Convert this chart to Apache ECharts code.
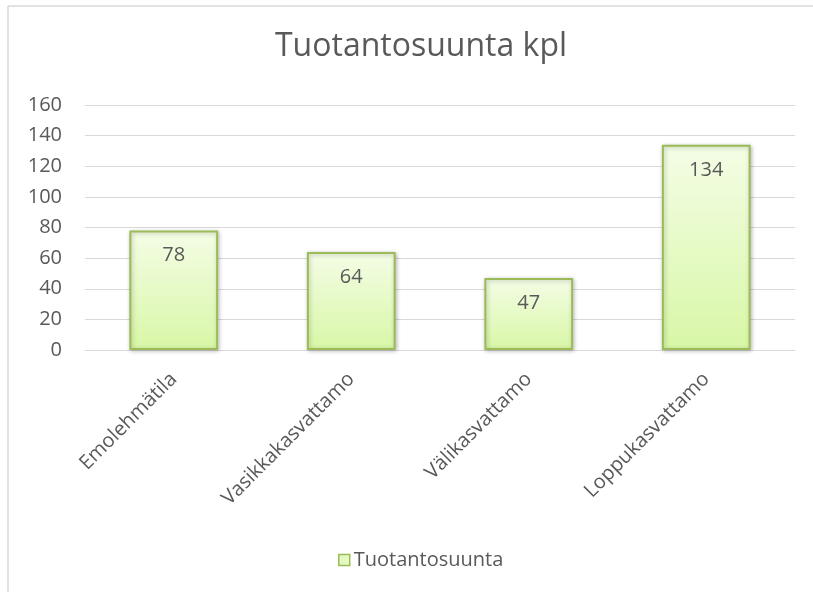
<!DOCTYPE html>
<html><head><meta charset="utf-8">
<script src="https://cdn.jsdelivr.net/npm/echarts@6/dist/echarts.min.js"></script>
<style>html,body{margin:0;padding:0;background:#fff}#c{width:813px;height:592px}</style>
</head><body><div id="c"></div>
<script>
const categories = ['Emolehmätila', 'Vasikkakasvattamo', 'Välikasvattamo', 'Loppukasvattamo'];
const values = [78, 64, 47, 134];
const seriesName = 'Tuotantosuunta';
const titleText = 'Tuotantosuunta kpl';

const chart = echarts.init(document.getElementById('c'));
const font = '"Open Sans", "Noto Sans", sans-serif';
chart.setOption({
  animation: false,
  textStyle: { fontFamily: font },
  title: { text: titleText, left: 416, textAlign: 'center', top: 26, textStyle: { fontFamily: font, fontSize: 32, fontWeight: 'normal', color: '#595959' } },
  graphic: [
    { type: 'line', shape: { x1: 8, y1: 6, x2: 813, y2: 6 }, style: { stroke: '#d9d9d9', lineWidth: 1.5 } },
    { type: 'line', shape: { x1: 8, y1: 6, x2: 8, y2: 592 }, style: { stroke: '#d9d9d9', lineWidth: 1.5 } }
  ],
  grid: { left: 85, right: 18, top: 105, bottom: 242, containLabel: false },
  legend: {
    top: 545, left: 333, itemWidth: 11, itemHeight: 11, itemGap: 4,
    icon: 'rect',
    textStyle: { fontFamily: font, fontSize: 20, color: '#595959', padding: [0, 0, 0, -1] },
    data: [{ name: seriesName, itemStyle: { color: '#e4f9c2', borderColor: '#9bbb59', borderWidth: 1.5 } }]
  },
  xAxis: {
    type: 'category', data: categories,
    axisLine: { lineStyle: { color: '#d9d9d9', width: 1 } },
    axisTick: { show: false },
    axisLabel: { rotate: 45, color: '#595959', fontSize: 20, fontFamily: font, margin: 26 }
  },
  yAxis: {
    type: 'value', min: 0, max: 160, interval: 20,
    axisLine: { show: false }, axisTick: { show: false },
    splitLine: { lineStyle: { color: '#d9d9d9', width: 1 } },
    axisLabel: { color: '#595959', fontSize: 20, fontFamily: font, margin: 23 }
  },
  series: [{
    name: seriesName, type: 'bar', data: values, barWidth: '50%',
    itemStyle: {
      color: new echarts.graphic.LinearGradient(0, 0, 0, 1, [
        { offset: 0, color: '#f4fde6' }, { offset: 1, color: '#d8f7a6' }
      ]),
      borderColor: '#9bbb59', borderWidth: 2,
      shadowColor: 'rgba(0,0,0,0.25)', shadowBlur: 4, shadowOffsetX: 1, shadowOffsetY: 1
    },
    label: { show: true, position: 'insideTop', distance: 15, color: '#595959', fontSize: 20, fontFamily: font }
  }]
});
</script></body></html>
